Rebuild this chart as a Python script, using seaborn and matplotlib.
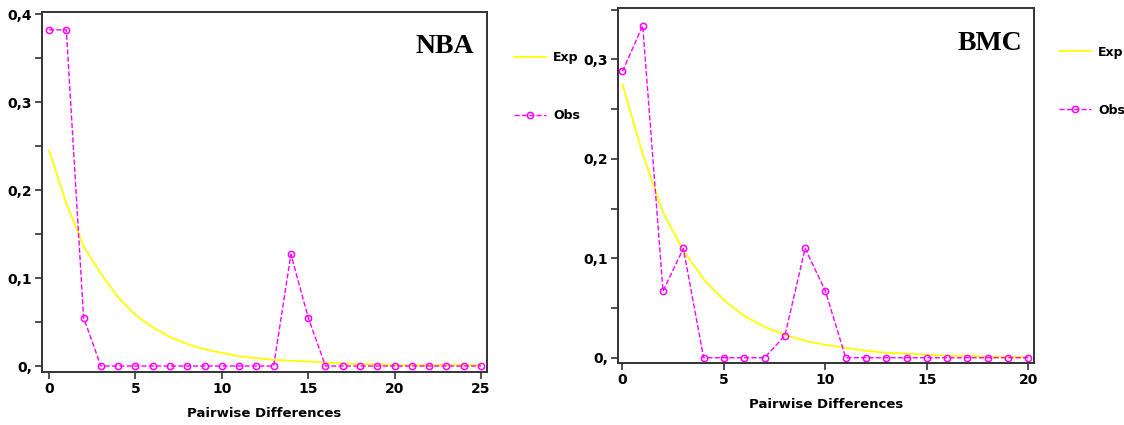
import numpy as np
import pandas as pd
import matplotlib
matplotlib.use('Agg')
import matplotlib.pyplot as plt
import seaborn as sns

# NBA panel
nba_diff = list(range(0, 26))
nba_obs = [0.382, 0.382, 0.055, 0, 0, 0, 0, 0, 0, 0, 0, 0, 0, 0, 0.127, 0.055,
           0, 0, 0, 0, 0, 0, 0, 0, 0, 0]
nba_exp = [0.245, 0.185, 0.136, 0.105, 0.078, 0.058, 0.044, 0.033, 0.025, 0.019,
           0.015, 0.011, 0.009, 0.007, 0.006, 0.005, 0.004, 0.003, 0.002, 0.002,
           0.001, 0.001, 0.001, 0.001, 0.001, 0.001]

# BMC panel
bmc_diff = list(range(0, 21))
bmc_obs = [0.288, 0.334, 0.067, 0.110, 0, 0, 0, 0, 0.022, 0.110, 0.067,
           0, 0, 0, 0, 0, 0, 0, 0, 0, 0]
bmc_exp = [0.275, 0.205, 0.146, 0.108, 0.079, 0.058, 0.042, 0.031, 0.023, 0.017,
           0.013, 0.010, 0.007, 0.005, 0.004, 0.003, 0.002, 0.002, 0.001, 0.001, 0.001]

nba_yticks = [0, 0.1, 0.2, 0.3, 0.4]
nba_ylabels = ['0,', '0,1', '0,2', '0,3', '0,4']
bmc_yticks = [0, 0.1, 0.2, 0.3]
bmc_ylabels = ['0,', '0,1', '0,2', '0,3']

sns.set_style('ticks')
plt.rcParams['font.family'] = ['Liberation Sans Narrow', 'DejaVu Sans Condensed', 'DejaVu Sans']
plt.rcParams['font.weight'] = 'bold'
plt.rcParams['text.color'] = 'black'
plt.rcParams['axes.labelcolor'] = 'black'

fig = plt.figure(figsize=(11.24, 4.25), dpi=100)
ax1 = fig.add_axes([0.0374, 0.1247, 0.3959, 0.8471])
ax2 = fig.add_axes([0.5496, 0.1459, 0.3704, 0.8346])

yellow = '#ffff00'
magenta = '#ff00ff'


def draw(ax, diff, exp, obs, yticks, ylabels, xmax, ylim, xlim, name, leg_x, leg_y, name_xy):
    df = pd.DataFrame({'diff': diff, 'exp': exp, 'obs': obs})
    sns.lineplot(data=df, x='diff', y='exp', ax=ax, color=yellow, lw=1.3, label='Exp')
    sns.lineplot(data=df, x='diff', y='obs', ax=ax, color=magenta, lw=1.0,
                 linestyle='--', marker='o', markersize=4.5, markerfacecolor='none',
                 markeredgecolor=magenta, markeredgewidth=1.1, label='Obs')
    ax.set_xlim(*xlim)
    ax.set_ylim(*ylim)
    ax.set_xticks(range(0, xmax + 1, 5))
    ax.set_yticks(yticks)
    ax.set_yticklabels(ylabels)
    ax.set_yticks(np.arange(0.05, ylim[1], 0.1), minor=True)
    ax.tick_params(axis='both', which='major', direction='out', length=5, width=1.2,
                   labelsize=10, colors='#333333', labelcolor='black', pad=2)
    ax.tick_params(axis='y', which='minor', direction='out', length=5, width=1.2, colors='#333333')
    for lbl in ax.get_xticklabels() + ax.get_yticklabels():
        lbl.set_fontweight('bold')
    ax.set_xlabel('Pairwise Differences', fontsize=9.5, fontweight='bold', labelpad=8)
    ax.set_ylabel('')
    for s in ax.spines.values():
        s.set_visible(True)
        s.set_color('#333333')
        s.set_linewidth(1.4)
    ax.text(name_xy[0], name_xy[1], name, transform=ax.transAxes, ha='center', va='center',
            fontsize=20, fontweight='bold', family=['Liberation Serif', 'DejaVu Serif'])
    leg = ax.legend(loc='upper left', bbox_to_anchor=(leg_x, leg_y), bbox_transform=fig.transFigure,
                    frameon=False, fontsize=9, handlelength=2.5, handletextpad=0.6,
                    labelspacing=3.6, borderpad=0)
    for t in leg.get_texts():
        t.set_fontweight('bold')


draw(ax1, nba_diff, nba_exp, nba_obs, nba_yticks, nba_ylabels, 25, (-0.0068, 0.4023),
     (-0.405, 25.35), 'NBA', 0.452, 0.895, (0.905, 0.905))
draw(ax2, bmc_diff, bmc_exp, bmc_obs, bmc_yticks, bmc_ylabels, 20, (-0.0053, 0.3515),
     (-0.23, 20.28), 'BMC', 0.937, 0.907, (0.895, 0.9))

fig.savefig('out.png', dpi=100)
